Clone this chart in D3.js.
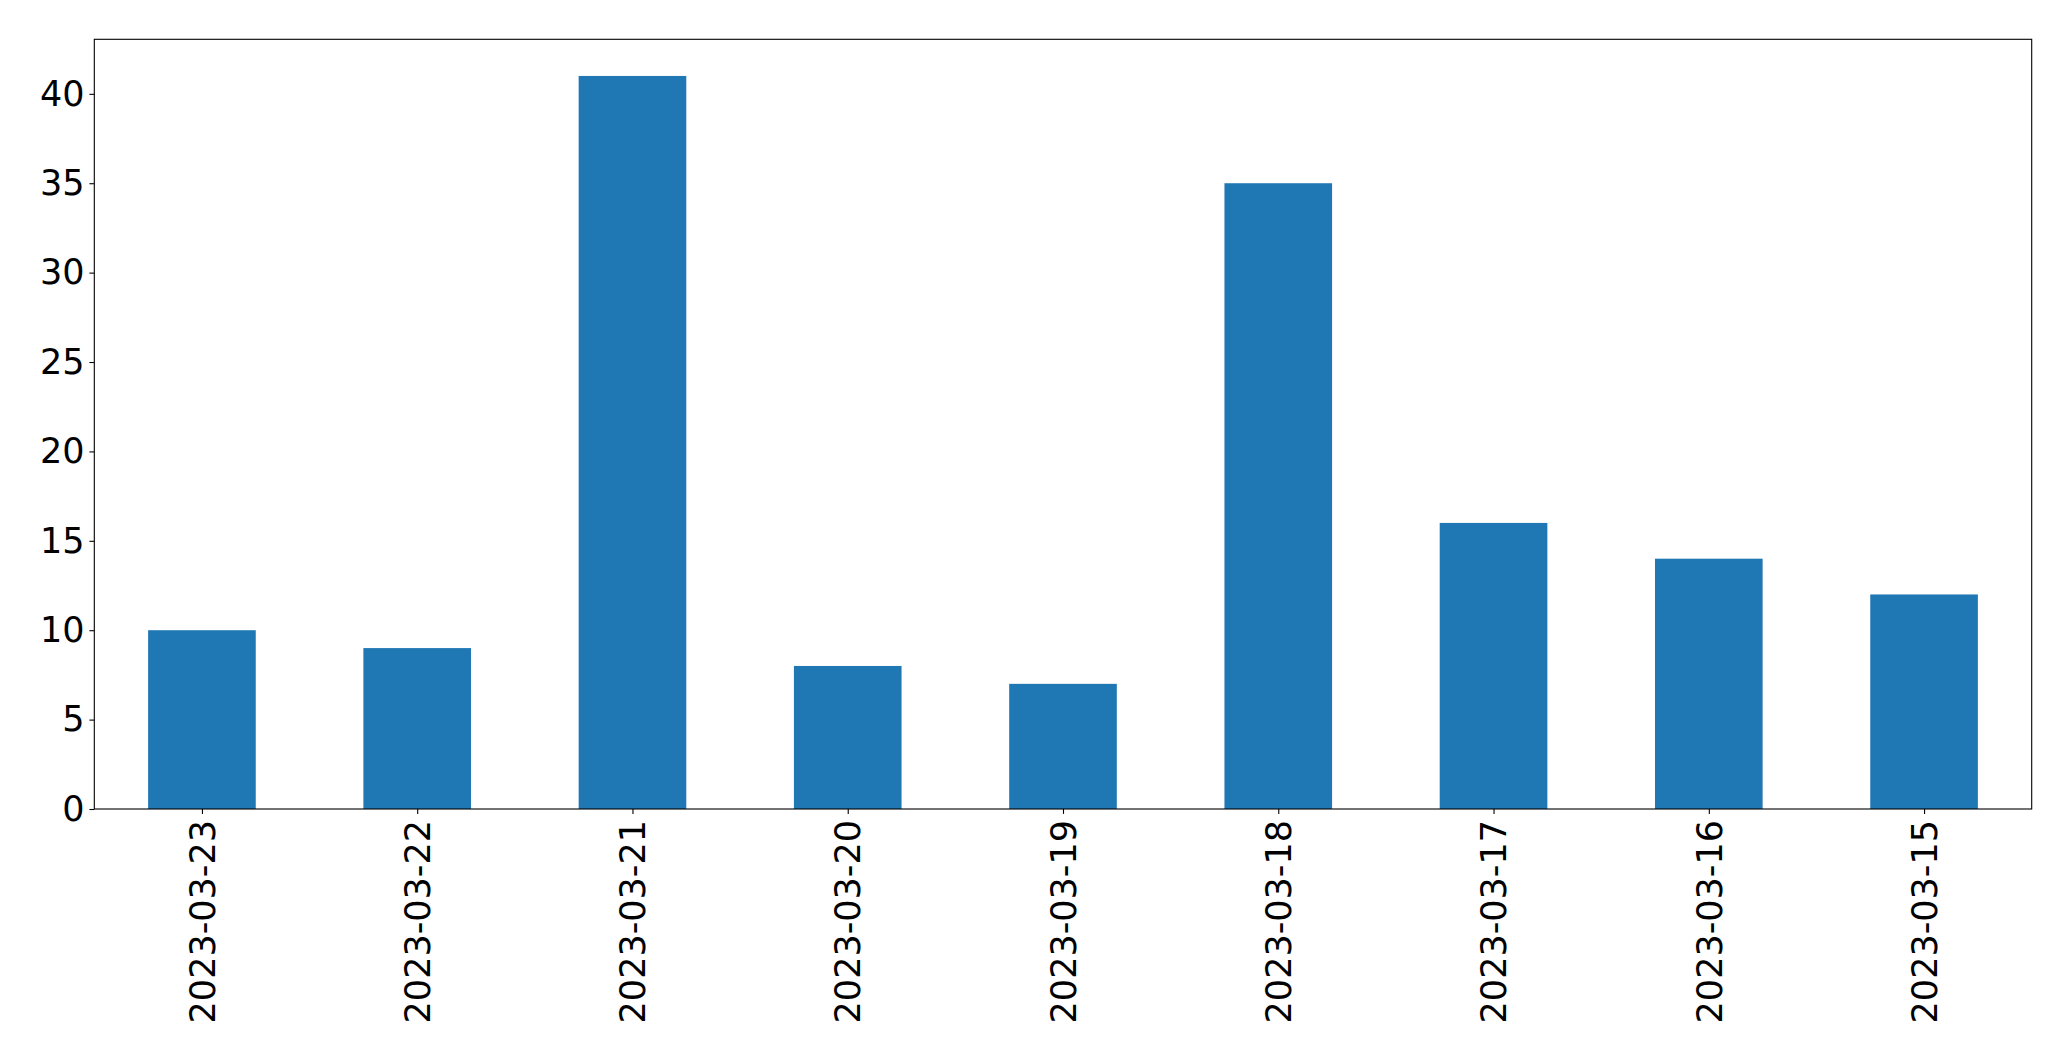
<!DOCTYPE html>
<html>
<head>
<meta charset="utf-8">
<script src="https://cdn.jsdelivr.net/npm/d3@7"></script>
<style>
  html, body { margin: 0; padding: 0; background: #fff; }
  svg { display: block; }
  text { font-family: "DejaVu Sans", sans-serif; }
</style>
</head>
<body>
<svg id="chart" width="2071" height="1061"></svg>
<script>
const categories = ["2023-03-23", "2023-03-22", "2023-03-21", "2023-03-20", "2023-03-19", "2023-03-18", "2023-03-17", "2023-03-16", "2023-03-15"];
const values = [10, 9, 41, 8, 7, 35, 16, 14, 12];
const yTicks = [0, 5, 10, 15, 20, 25, 30, 35, 40];

const W = 2071, H = 1061;
const margin = { left: 94.3, right: W - 2031.7, top: 39.3, bottom: H - 809 };
const svg = d3.select("#chart");
const iw = W - margin.left - margin.right;
const ih = H - margin.top - margin.bottom;
const g = svg.append("g").attr("transform", `translate(${margin.left},${margin.top})`);

// matplotlib-like categorical axis: xlim [-0.5, n-0.5], bar width 0.5
const n = categories.length;
const xLin = d3.scaleLinear().domain([-0.5, n - 0.5]).range([0, iw]);
const x = d3.scalePoint().domain(categories).range([xLin(0), xLin(n - 1)]);
const barW = xLin(0.5) - xLin(0);
const y = d3.scaleLinear().domain([0, d3.max(values) * 1.05]).range([ih, 0]);

g.selectAll("rect.bar").data(values).enter().append("rect")
  .attr("class", "bar")
  .attr("x", (d, i) => x(categories[i]) - barW / 2)
  .attr("width", barW)
  .attr("y", d => y(d))
  .attr("height", d => y(0) - y(d))
  .attr("fill", "#1f77b4");

// frame
g.append("rect").attr("x", 0).attr("y", 0).attr("width", iw).attr("height", ih)
  .attr("fill", "none").attr("stroke", "#000").attr("stroke-width", 1.1);

const fs = 35;
const yAxis = g.append("g").call(d3.axisLeft(y).tickValues(yTicks).tickSize(4.9).tickPadding(4.9).tickFormat(d3.format("d")));
yAxis.select(".domain").remove();
yAxis.selectAll("line").attr("stroke", "#000").attr("stroke-width", 1.1);
yAxis.selectAll("text").attr("font-size", fs).attr("fill", "#000").attr("font-family", "DejaVu Sans");

const xAxis = g.append("g").attr("transform", `translate(0,${ih})`)
  .call(d3.axisBottom(x).tickSize(4.9).tickPadding(0));
xAxis.select(".domain").remove();
xAxis.selectAll("line").attr("stroke", "#000").attr("stroke-width", 1.1);
xAxis.selectAll("text")
  .attr("font-size", fs).attr("fill", "#000").attr("font-family", "DejaVu Sans")
  .attr("text-anchor", "end")
  .attr("transform", "translate(0,11) rotate(-90)")
  .attr("x", 0).attr("y", 0).attr("dy", "0.35em");
</script>
</body>
</html>
